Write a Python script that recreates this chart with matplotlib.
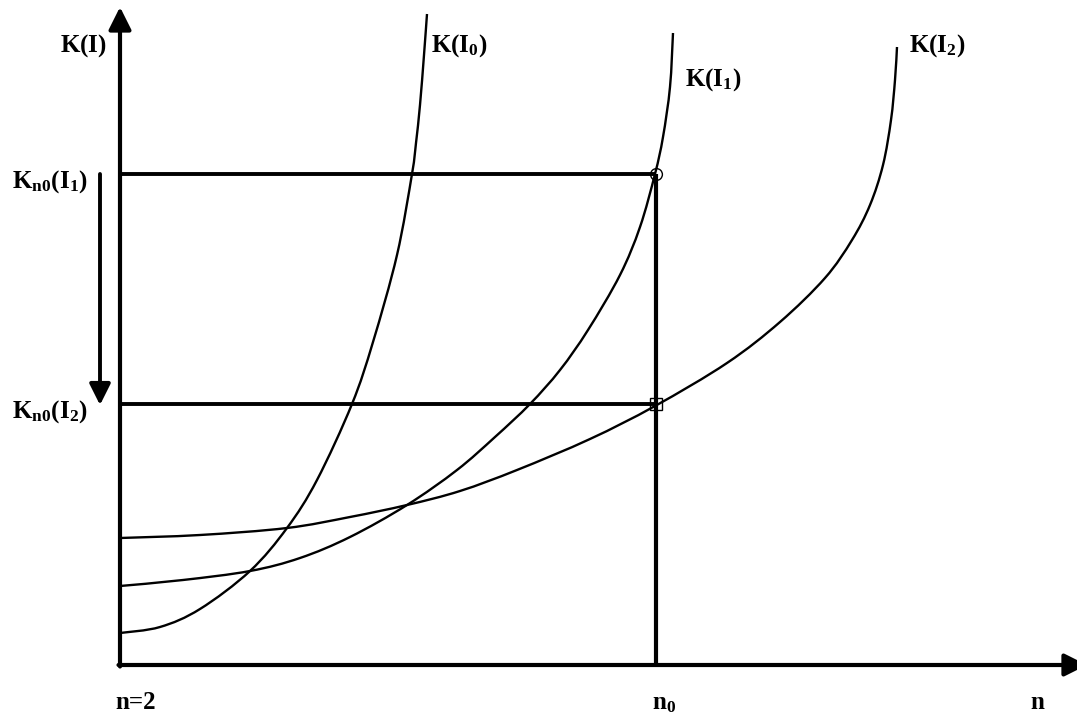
import matplotlib.pyplot as plt
from matplotlib.path import Path
from matplotlib.patches import PathPatch

# Curves K(I0), K(I1), K(I2) (n units right of the K axis, K units above the n axis)
k_i0_n = [0, 40, 80, 130, 167, 197, 232, 253, 277, 292, 296, 300, 304, 307]
k_i0_k = [32, 38, 56, 94, 137, 185, 261, 323, 410, 491, 522, 560, 610, 651]

k_i1_n = [0, 63, 130, 180, 230, 287, 337, 375, 410, 440, 468, 500, 520, 535, 543, 550, 553]
k_i1_k = [79, 85, 94, 107, 128, 160, 195, 228, 261, 295, 335, 390, 438, 491, 528, 578, 632]

k_i2_n = [0, 80, 167, 230, 287, 340, 397, 470, 535, 607, 660, 705, 732, 750, 763, 771, 775, 777]
k_i2_k = [127, 130, 137, 148, 160, 174, 195, 226, 259, 302, 343, 387, 425, 460, 500, 545, 585, 618]

n0 = 536
k_n0_i1 = 491
k_n0_i2 = 261

curve_labels = [r"$\mathrm{K(I_0)}$", r"$\mathrm{K(I_1)}$", r"$\mathrm{K(I_2)}$"]


def glat_sti(xs, ys):
    """Bezier path through the read points (Catmull-Rom tangents)."""
    pts = list(zip(xs, ys))
    ext = [pts[0]] + pts + [pts[-1]]
    verts = [pts[0]]
    codes = [Path.MOVETO]
    for i in range(1, len(ext) - 2):
        p0, p1, p2, p3 = ext[i - 1], ext[i], ext[i + 1], ext[i + 2]
        c1 = (p1[0] + (p2[0] - p0[0]) / 6, p1[1] + (p2[1] - p0[1]) / 6)
        c2 = (p2[0] - (p3[0] - p1[0]) / 6, p2[1] - (p3[1] - p1[1]) / 6)
        verts += [c1, c2, p2]
        codes += [Path.CURVE4] * 3
    return Path(verts, codes)


plt.rc("font", family="Liberation Serif", weight="bold", size=18)
plt.rc("mathtext", fontset="custom", rm="Liberation Serif:bold",
       it="Liberation Serif:bold", bf="Liberation Serif:bold")

fig = plt.figure(figsize=(10.77, 7.13), dpi=100)
ax = fig.add_axes([0, 0, 1, 1])
ax.set_xlim(-120, 957)
ax.set_ylim(-48, 665)
ax.axis("off")

# axes with arrow heads
head = "-|>,head_length=0.4,head_width=0.2"
ax.annotate("", xy=(0, 658), xytext=(0, -1.5), annotation_clip=False,
            arrowprops=dict(arrowstyle=head, lw=3, color="black", mutation_scale=34,
                            shrinkA=0, shrinkB=0))
ax.annotate("", xy=(967, 0), xytext=(-1.5, 0), annotation_clip=False,
            arrowprops=dict(arrowstyle=head, lw=3, color="black", mutation_scale=34,
                            shrinkA=0, shrinkB=0))
# shift arrow K_n0(I1) -> K_n0(I2)
ax.annotate("", xy=(-20, k_n0_i2 - 1), xytext=(-20, k_n0_i1), annotation_clip=False,
            arrowprops=dict(arrowstyle=head, lw=2.8, color="black", mutation_scale=32,
                            shrinkA=0, shrinkB=0))

# guide lines
ax.plot([0, n0], [k_n0_i1, k_n0_i1], color="black", lw=2.8, solid_capstyle="butt")
ax.plot([0, n0], [k_n0_i2, k_n0_i2], color="black", lw=2.8, solid_capstyle="butt")
ax.plot([n0, n0], [0, k_n0_i1], color="black", lw=3, solid_capstyle="butt")

for xs, ys in zip([k_i0_n, k_i1_n, k_i2_n], [k_i0_k, k_i1_k, k_i2_k]):
    ax.add_patch(PathPatch(glat_sti(xs, ys), fill=False, edgecolor="black", lw=1.7))

ax.plot([n0], [k_n0_i1], marker="o", ms=8.5, mfc="none", mec="black", mew=1.0)
ax.plot([n0], [k_n0_i2], marker="s", ms=8.5, mfc="none", mec="black", mew=1.0)

# labels
ax.text(-60, 613, r"$\mathrm{K(I)}$", ha="left", va="baseline")
for (x, y), lab in zip([(311, 613), (565, 579), (789, 613)], curve_labels):
    ax.text(x, y, lab, ha="left", va="baseline")
ax.text(-108, 477, r"$\mathrm{K_{n0}(I_1)}$", ha="left", va="baseline")
ax.text(-108, 247, r"$\mathrm{K_{n0}(I_2)}$", ha="left", va="baseline")
ax.text(-5, -44, "n=2", ha="left", va="baseline")
ax.text(532, -44, r"$\mathrm{n_0}$", ha="left", va="baseline")
ax.text(910, -44, "n", ha="left", va="baseline")

plt.savefig("out.png", dpi=100)
